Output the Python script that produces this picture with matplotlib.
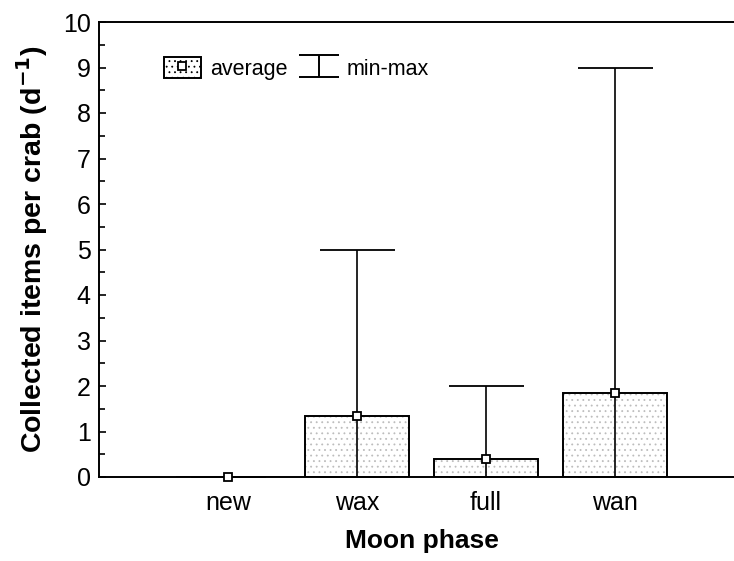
import numpy as np
import matplotlib.pyplot as plt
from matplotlib.lines import Line2D
from matplotlib.patches import Patch
from matplotlib.path import Path

plt.rcParams['font.family'] = ['Liberation Sans', 'DejaVu Sans']
plt.rcParams['hatch.linewidth'] = 0.6

# data
phases = ["new", "wax", "full", "wan"]
avg = [0.0, 1.33, 0.40, 1.85]
vmin = [0, 0, 0, 0]
vmax = [0, 5, 2, 9]

x = np.arange(1, len(phases) + 1)
avg = np.array(avg)
lo = avg - np.array(vmin)
hi = np.array(vmax) - avg

fig = plt.figure(figsize=(7.34, 5.61), dpi=100)
ax = fig.add_axes([99 / 734, 84 / 561, 645 / 734, 455 / 561])

# dotted fill (grey dots), then black outline on top
ax.bar(x, avg, width=0.8, color="white", edgecolor="#bdbdbd", hatch="...",
       linewidth=0, zorder=1)
ax.bar(x, avg, width=0.8, fill=False, edgecolor="black", linewidth=1.4, zorder=2)

ax.errorbar(x, avg, yerr=[lo, hi], fmt="s", color="black", ecolor="black",
            elinewidth=1.2, capsize=27, capthick=1.4, markersize=6,
            markerfacecolor="white", markeredgecolor="black",
            markeredgewidth=1.3, zorder=3, clip_on=False)

ax.set_xlim(0, 5)
ax.set_ylim(0, 10)
ax.set_xticks(x)
ax.set_xticklabels(phases)
ax.set_yticks(np.arange(0, 11, 1))
ax.set_yticks(np.arange(0.5, 10, 1), minor=True)
ax.tick_params(axis="y", which="major", direction="in", length=5, width=1.2,
               labelsize=18, pad=6)
ax.tick_params(axis="y", which="minor", direction="in", length=4, width=1.2)
ax.tick_params(axis="x", length=0, labelsize=18, pad=10)

for side in ["left", "bottom", "top"]:
    ax.spines[side].set_linewidth(1.4)
ax.spines["right"].set_visible(False)

ax.set_xlabel("Moon phase", fontsize=19, fontweight="bold", labelpad=10)
ax.set_ylabel("Collected items per crab (d$^{\\mathbf{-1}}$)", fontsize=20.5,
              fontweight="bold", labelpad=9)

# legend
box = Patch(facecolor="white", edgecolor="black", hatch="...", linewidth=1.4)
sq = Line2D([], [], marker="s", linestyle="none", markersize=6,
            markerfacecolor="white", markeredgecolor="black", markeredgewidth=1.3)
ibeam = Path([(-1, -0.55), (1, -0.55), (0, -0.55), (0, 0.55), (-1, 0.55), (1, 0.55)],
             [Path.MOVETO, Path.LINETO, Path.MOVETO, Path.LINETO,
              Path.MOVETO, Path.LINETO])
mm = Line2D([], [], marker=ibeam, linestyle="none", markersize=29,
            markerfacecolor="none", markeredgecolor="black", markeredgewidth=1.4)
ax.legend([(box, sq), mm], ["average", "min-max"], loc="upper left",
          bbox_to_anchor=(0.07, 0.965), ncol=2, frameon=False, fontsize=15.5,
          handlelength=1.75, handleheight=1.1, handletextpad=0.4,
          columnspacing=0.6)

fig.savefig("out.png", dpi=100)
